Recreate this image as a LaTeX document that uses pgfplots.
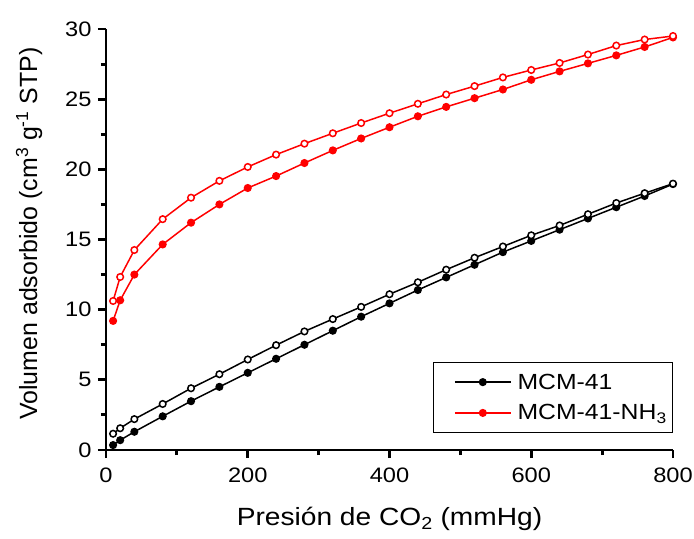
\documentclass[border=0pt]{standalone}
\usepackage{pgfplots}
\pgfplotsset{compat=1.18}
\usepackage{fontspec}
\setmainfont[FakeStretch=1.13]{Liberation Sans}
\newfontfamily\ylabfont{Liberation Sans}

\begin{document}
\begin{tikzpicture}
\useasboundingbox (-106bp,-89bp) rectangle (588bp,450bp);
\begin{axis}[
    at={(0,0)}, anchor=south west,
    width=567bp, height=421bp, scale only axis,
    xmin=0, xmax=800, ymin=0, ymax=30,
    axis x line*=bottom, axis y line*=left,
    axis line style={line width=1.8pt},
    xtick={0,200,400,600,800},
    ytick={0,5,10,15,20,25,30},
    minor x tick num=1, minor y tick num=1,
    xtick pos=bottom, ytick pos=left,
    xtick align=outside, ytick align=outside,
    major tick length=8bp, minor tick length=5bp,
    every major tick/.append style={line width=3pt, black},
    every minor tick/.append style={line width=3pt, black},
    /pgf/number format/assume math mode=true,
    tick label style={font=\fontsize{21}{21}\selectfont},
    xticklabel style={yshift=-6bp},
    yticklabel style={xshift=-3bp},
    xlabel={Presión de CO\textsubscript{2} (mmHg)},
    ylabel={\ylabfont Volumen adsorbido (cm\textsuperscript{3} g\textsuperscript{-1} STP)},
    label style={font=\fontsize{25}{25}\selectfont},
    xlabel style={yshift=-18bp},
    ylabel style={yshift=16bp, xshift=6bp},
    legend cell align=left,
    legend style={at={(rel axis cs:1,0.04)}, anchor=south east,
        draw=black, line width=0.7pt, font=\fontsize{22}{25}\selectfont,
        inner xsep=4bp, inner ysep=9.5bp, row sep=10bp},
    legend image code/.code={
        \path (-7bp,0bp) (70bp,0bp);
        \draw[#1, mark repeat=2, mark phase=2]
        plot coordinates {(10bp,0bp) (38bp,0bp) (66bp,0bp)};
    },
]
% MCM-41 adsorption
\addplot[black, line width=1.5pt, mark=*, mark size=3.3pt, mark options={solid, fill=black}] coordinates {
    (10,0.35) (20,0.7) (40,1.3) (80,2.4) (120,3.48) (160,4.5) (200,5.5)
    (240,6.5) (280,7.5) (320,8.5) (360,9.5) (400,10.45) (440,11.4)
    (480,12.3) (520,13.2) (560,14.1) (600,14.9) (640,15.7) (680,16.5)
    (720,17.3) (760,18.1) (800,18.95)
};
\addlegendentry{MCM-41}
% MCM-41-NH3 adsorption
\addplot[red, line width=1.5pt, mark=*, mark size=3.3pt, mark options={solid, fill=red}] coordinates {
    (10,9.2) (20,10.67) (40,12.5) (80,14.65) (120,16.2) (160,17.5)
    (200,18.67) (240,19.52) (280,20.45) (320,21.35) (360,22.2) (400,23.0)
    (440,23.78) (480,24.45) (520,25.07) (560,25.69) (600,26.38)
    (640,26.98) (680,27.55) (720,28.12) (760,28.72) (800,29.4)
};
\addlegendentry{MCM-41-NH\textsubscript{3}}
% MCM-41 desorption
\addplot[black, line width=1.5pt, mark=*, mark size=3.3pt, mark options={solid, fill=white}, forget plot] coordinates {
    (10,1.16) (20,1.55) (40,2.2) (80,3.28) (120,4.4) (160,5.4) (200,6.45)
    (240,7.47) (280,8.45) (320,9.33) (360,10.2) (400,11.1) (440,11.95)
    (480,12.85) (520,13.7) (560,14.5) (600,15.3) (640,16.0) (680,16.8)
    (720,17.6) (760,18.3) (800,18.98)
};
% MCM-41-NH3 desorption
\addplot[red, line width=1.5pt, mark=*, mark size=3.3pt, mark options={solid, fill=white}, forget plot] coordinates {
    (10,10.62) (20,12.33) (40,14.25) (80,16.45) (120,17.98) (160,19.18)
    (200,20.17) (240,21.05) (280,21.83) (320,22.57) (360,23.3) (400,24.0)
    (440,24.67) (480,25.33) (520,25.93) (560,26.55) (600,27.08)
    (640,27.58) (680,28.18) (720,28.82) (760,29.25) (800,29.5)
};
\end{axis}
\end{tikzpicture}
\end{document}
